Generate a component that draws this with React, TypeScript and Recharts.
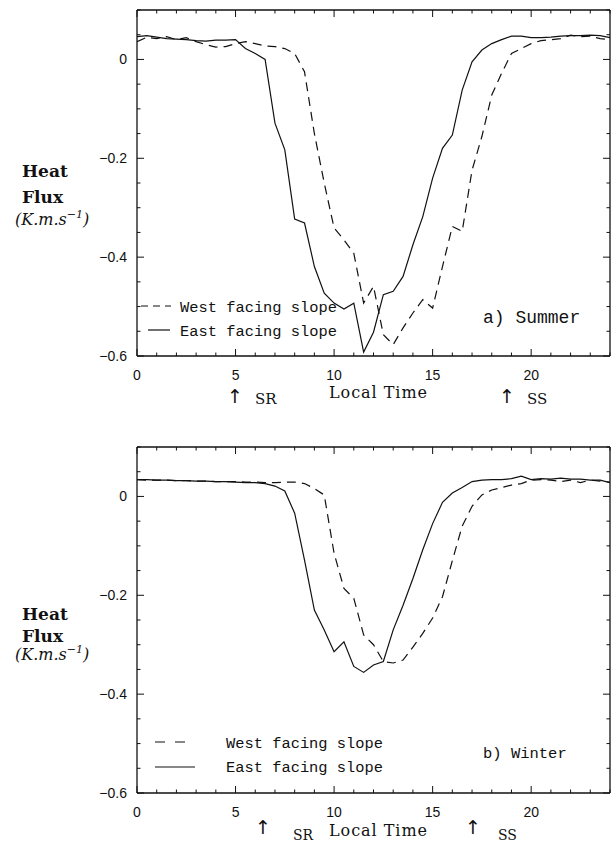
import { LineChart, Line, XAxis, YAxis } from "recharts";

// local time, half-hour steps
const hours = [
  0, 0.5, 1, 1.5, 2, 2.5, 3, 3.5, 4, 4.5, 5, 5.5, 6, 6.5, 7, 7.5, 8, 8.5, 9, 9.5,
  10, 10.5, 11, 11.5, 12, 12.5, 13, 13.5, 14, 14.5, 15, 15.5, 16, 16.5, 17, 17.5,
  18, 18.5, 19, 19.5, 20, 20.5, 21, 21.5, 22, 22.5, 23, 23.5, 24,
];

const summerWest = [
  0.036, 0.045, 0.042, 0.046, 0.04, 0.044, 0.036, 0.03, 0.025, 0.026, 0.032, 0.036,
  0.032, 0.027, 0.026, 0.022, 0.012, -0.025, -0.15, -0.25, -0.341, -0.365, -0.392,
  -0.493, -0.459, -0.557, -0.577, -0.543, -0.513, -0.486, -0.503, -0.419, -0.338,
  -0.348, -0.224, -0.156, -0.072, -0.028, 0.012, 0.022, 0.032, 0.038, 0.04, 0.042,
  0.049, 0.046, 0.047, 0.042, 0.04,
];

const summerEast = [
  0.046, 0.048, 0.045, 0.042, 0.041, 0.04, 0.038, 0.037, 0.039, 0.039, 0.04, 0.022,
  0.012, 0.0, -0.129, -0.183, -0.323, -0.331, -0.419, -0.473, -0.493, -0.505, -0.493,
  -0.592, -0.552, -0.476, -0.469, -0.439, -0.375, -0.318, -0.24, -0.18, -0.153,
  -0.062, -0.005, 0.019, 0.032, 0.04, 0.047, 0.047, 0.044, 0.044, 0.045, 0.047,
  0.048, 0.048, 0.049, 0.048, 0.044,
];

const winterWest = [
  0.034, 0.033, 0.033, 0.033, 0.032, 0.032, 0.031, 0.031, 0.03, 0.03, 0.03, 0.029,
  0.029, 0.028, 0.028, 0.029, 0.029, 0.026, 0.016, 0.003, -0.115, -0.186, -0.206,
  -0.28, -0.3, -0.334, -0.337, -0.331, -0.305, -0.277, -0.246, -0.203, -0.13, -0.06,
  -0.02, 0.003, 0.013, 0.018, 0.023, 0.026, 0.033, 0.034, 0.033, 0.03, 0.033, 0.028,
  0.033, 0.031, 0.029,
];

const winterEast = [
  0.034, 0.034, 0.033, 0.033, 0.032, 0.032, 0.031, 0.031, 0.03, 0.03, 0.029, 0.028,
  0.028, 0.026, 0.021, 0.011, -0.034, -0.129, -0.23, -0.27, -0.314, -0.294, -0.344,
  -0.356, -0.341, -0.334, -0.27, -0.22, -0.166, -0.108, -0.055, -0.012, 0.007, 0.018,
  0.03, 0.033, 0.034, 0.034, 0.036, 0.041, 0.034, 0.036, 0.035, 0.037, 0.035, 0.035,
  0.033, 0.033, 0.028,
];

const xTicks = [0, 1, 2, 3, 4, 5, 6, 7, 8, 9, 10, 11, 12, 13, 14, 15, 16, 17, 18, 19, 20, 21, 22, 23, 24];
const yTicks = [-0.6, -0.55, -0.5, -0.45, -0.4, -0.35, -0.3, -0.25, -0.2, -0.15, -0.1, -0.05, 0, 0.05, 0.1];

const rows = (west: number[], east: number[]) =>
  hours.map((t, i) => ({ t, west: west[i], east: east[i] }));

const summerData = rows(summerWest, summerEast);
const winterData = rows(winterWest, winterEast);

const INK = "#111";
const SANS = "'Liberation Sans', Arial, sans-serif";
const SERIF = "'DejaVu Serif', serif";
const MONO = "'Liberation Mono', monospace";
const ARROW = "'DejaVu Sans', sans-serif";

const majorX = (v: number) => v % 5 === 0;
const majorY = (v: number) => Math.abs(v * 5 - Math.round(v * 5)) < 1e-6;
const fmtY = (v: number) => (Math.abs(v) < 1e-9 ? "0" : (v < 0 ? "\u2212" : "") + Math.abs(v).toFixed(1));

const BottomTick = ({ x, y, payload }: any) => {
  const major = majorX(payload.value);
  return (
    <g>
      <line x1={x} x2={x} y1={y} y2={y - (major ? 7 : 3.5)} stroke={INK} strokeWidth={1} />
      {major && (
        <text x={x} y={y + 24} textAnchor="middle" fontFamily={SANS} fontSize={14} fill={INK}>
          {payload.value}
        </text>
      )}
    </g>
  );
};

const TopTick = ({ x, y, payload }: any) => (
  <line x1={x} x2={x} y1={y} y2={y + (majorX(payload.value) ? 7 : 3.5)} stroke={INK} strokeWidth={1} />
);

const LeftTick = ({ x, y, payload }: any) => {
  const major = majorY(payload.value);
  return (
    <g>
      <line x1={x} x2={x + (major ? 7 : 3.5)} y1={y} y2={y} stroke={INK} strokeWidth={1} />
      {major && (
        <text x={x - 10} y={y + 5} textAnchor="end" fontFamily={SANS} fontSize={14} fill={INK}>
          {fmtY(payload.value)}
        </text>
      )}
    </g>
  );
};

const RightTick = ({ x, y, payload }: any) => (
  <line x1={x} x2={x - (majorY(payload.value) ? 7 : 3.5)} y1={y} y2={y} stroke={INK} strokeWidth={1} />
);

const axisLine = { stroke: INK, strokeWidth: 1.3 };

function Panel({ data, top, height }: { data: any[]; top: number; height: number }) {
  return (
    <div style={{ position: "absolute", left: 0, top, width: 616, height }}>
      <LineChart width={616} height={height} data={data} margin={{ top: 0, right: 0, bottom: 0, left: 0 }}>
        <XAxis
          xAxisId="b"
          orientation="bottom"
          dataKey="t"
          type="number"
          domain={[0, 24]}
          allowDataOverflow
          ticks={xTicks}
          interval={0}
          height={height - 356}
          tickSize={0}
          tickMargin={0}
          tickLine={false}
          axisLine={axisLine}
          tick={(p: any) => <BottomTick {...p} />}
        />
        <XAxis
          xAxisId="t"
          orientation="top"
          dataKey="t"
          type="number"
          domain={[0, 24]}
          allowDataOverflow
          ticks={xTicks}
          interval={0}
          height={10}
          tickSize={0}
          tickMargin={0}
          tickLine={false}
          axisLine={axisLine}
          tick={(p: any) => <TopTick {...p} />}
        />
        <YAxis
          yAxisId="l"
          orientation="left"
          type="number"
          domain={[-0.6, 0.1]}
          allowDataOverflow
          ticks={yTicks}
          interval={0}
          width={137}
          tickSize={0}
          tickMargin={0}
          tickLine={false}
          axisLine={axisLine}
          tick={(p: any) => <LeftTick {...p} />}
        />
        <YAxis
          yAxisId="r"
          orientation="right"
          type="number"
          domain={[-0.6, 0.1]}
          allowDataOverflow
          ticks={yTicks}
          interval={0}
          width={6}
          tickSize={0}
          tickMargin={0}
          tickLine={false}
          axisLine={axisLine}
          tick={(p: any) => <RightTick {...p} />}
        />
        <Line
          xAxisId="b"
          yAxisId="l"
          type="linear"
          dataKey="west"
          stroke={INK}
          strokeWidth={1.2}
          strokeDasharray="9 6"
          dot={false}
          isAnimationActive={false}
        />
        <Line
          xAxisId="b"
          yAxisId="l"
          type="linear"
          dataKey="east"
          stroke={INK}
          strokeWidth={1.2}
          dot={false}
          isAnimationActive={false}
        />
      </LineChart>
    </div>
  );
}

function YTitle({ y1, y2, y3 }: { y1: number; y2: number; y3: number }) {
  return (
    <g fill={INK}>
      <text x={22} y={y1} fontFamily={SERIF} fontWeight="bold" fontSize={17}>Heat</text>
      <text x={22} y={y2} fontFamily={SERIF} fontWeight="bold" fontSize={17}>Flux</text>
      <text x={15} y={y3} fontFamily={SERIF} fontStyle="italic" fontSize={16}>
        (K.m.s
        <tspan dy={-7} fontSize={11}>{"\u22121"}</tspan>
        <tspan dy={7}>)</tspan>
      </text>
    </g>
  );
}

const Arrow = ({ x, y }: { x: number; y: number }) => (
  <text x={x} y={y} textAnchor="middle" fontFamily={ARROW} fontSize={19} fill={INK}>
    {"\u2191"}
  </text>
);

export default function App() {
  return (
    <div style={{ position: "absolute", left: 0, top: 0, width: 616, height: 844, background: "#fff" }}>
      <Panel data={summerData} top={0} height={420} />
      <Panel data={winterData} top={437} height={407} />
      <svg
        width={616}
        height={844}
        style={{ position: "absolute", left: 0, top: 0, pointerEvents: "none" }}
      >
        {/* summer panel texts */}
        <YTitle y1={177} y2={203} y3={225} />
        <line x1={141} x2={171} y1={306} y2={306} stroke={INK} strokeWidth={1.2} strokeDasharray="7 5" />
        <line x1={148} x2={170} y1={330} y2={330} stroke={INK} strokeWidth={1.2} />
        <text x={180} y={312} fontFamily={MONO} fontSize={15.4} fill={INK}>West facing slope</text>
        <text x={180} y={336} fontFamily={MONO} fontSize={15.4} fill={INK}>East facing slope</text>
        <text x={483} y={323} fontFamily={MONO} fontSize={18} fill={INK}>a) Summer</text>
        <Arrow x={235} y={403} />
        <text x={255} y={404} fontFamily={SERIF} fontSize={15} fill={INK}>SR</text>
        <text x={329} y={398} fontFamily={SERIF} fontSize={16} textLength={98} fill={INK}>Local Time</text>
        <Arrow x={507} y={403} />
        <text x={527} y={404} fontFamily={SERIF} fontSize={15} fill={INK}>SS</text>

        {/* winter panel texts */}
        <YTitle y1={620} y2={642} y3={660} />
        <line x1={155} x2={187} y1={742} y2={742} stroke={INK} strokeWidth={1.2} strokeDasharray="10 10" />
        <line x1={155} x2={195} y1={767} y2={767} stroke={INK} strokeWidth={1.2} />
        <text x={226} y={748} fontFamily={MONO} fontSize={15.4} fill={INK}>West facing slope</text>
        <text x={226} y={772} fontFamily={MONO} fontSize={15.4} fill={INK}>East facing slope</text>
        <text x={483} y={758} fontFamily={MONO} fontSize={15.5} fill={INK}>b) Winter</text>
        <Arrow x={263} y={834} />
        <text x={293} y={840} fontFamily={SERIF} fontSize={14} fill={INK}>SR</text>
        <text x={329} y={836} fontFamily={SERIF} fontSize={16} textLength={98} fill={INK}>Local Time</text>
        <Arrow x={473} y={834} />
        <text x={498} y={840} fontFamily={SERIF} fontSize={14} fill={INK}>SS</text>
      </svg>
    </div>
  );
}
